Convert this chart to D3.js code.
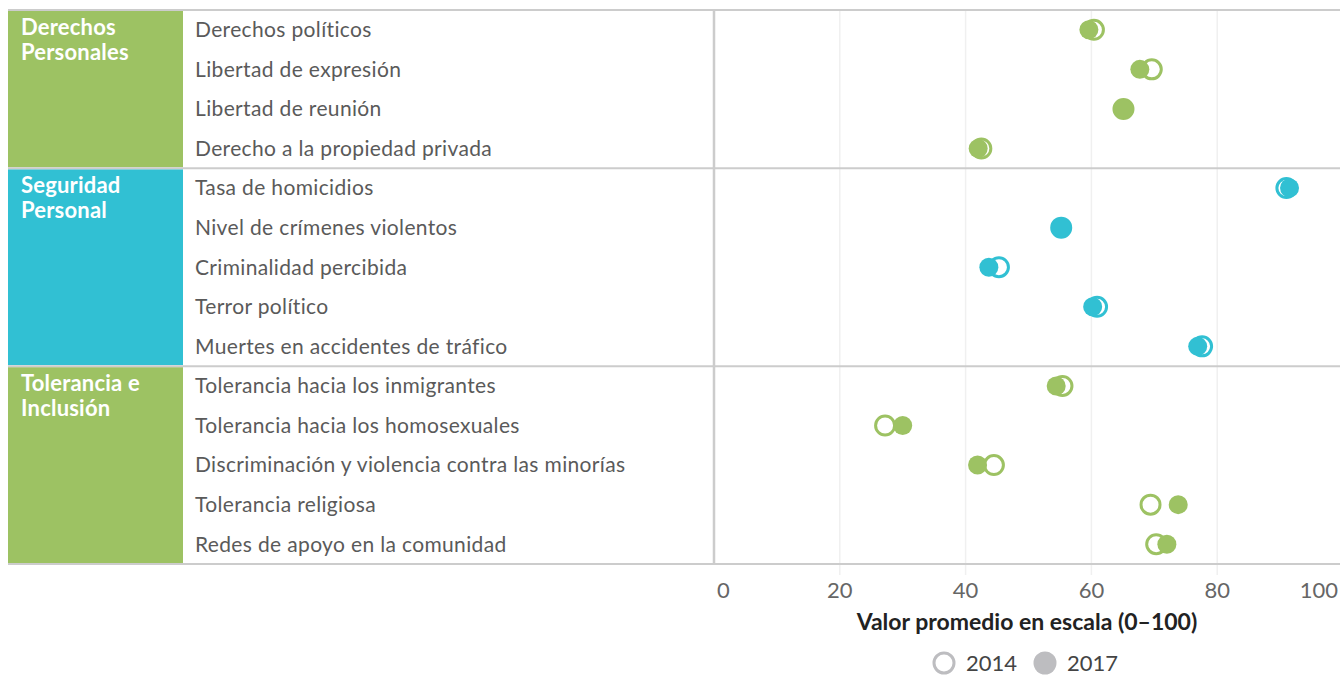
<!DOCTYPE html>
<html>
<head>
<meta charset="utf-8">
<script src="https://cdn.jsdelivr.net/npm/d3@7"></script>
<style>
  html, body { margin: 0; padding: 0; background: #fff; }
  svg { display: block; }
  text { font-family: Lato, "Open Sans", sans-serif; }
</style>
</head>
<body>
<svg id="chart" width="1340" height="677"></svg>
<script>
// ---- data ----
const groups = ["Derechos Personales", "Seguridad Personal", "Tolerancia e Inclusión"];
const groupLines = [["Derechos", "Personales"], ["Seguridad", "Personal"], ["Tolerancia e", "Inclusión"]];
const groupColors = ["#9dc263", "#31c0d3", "#9dc263"];
const items = [
  "Derechos políticos", "Libertad de expresión", "Libertad de reunión", "Derecho a la propiedad privada",
  "Tasa de homicidios", "Nivel de crímenes violentos", "Criminalidad percibida", "Terror político", "Muertes en accidentes de tráfico",
  "Tolerancia hacia los inmigrantes", "Tolerancia hacia los homosexuales", "Discriminación y violencia contra las minorías", "Tolerancia religiosa", "Redes de apoyo en la comunidad"
];
const itemGroup = [0,0,0,0, 1,1,1,1,1, 2,2,2,2,2];
const values2014 = [60.4, 69.6, 65.1, 42.5, 91.0, 55.2, 45.3, 60.9, 77.6, 55.4, 27.2, 44.5, 69.4, 70.3];
const values2017 = [59.6, 67.7, 65.1, 42.0, 91.5, 55.2, 43.7, 60.2, 76.9, 54.4, 30.0, 41.9, 73.8, 72.0];
const tickValues = [0, 20, 40, 60, 80, 100];
const gridValues = [20, 40, 60, 80, 100];
const axisTitle = "Valor promedio en escala (0–100)";
const legendYears = ["2014", "2017"];

// ---- layout ----
const W = 1340;
const plotTop = 10, plotBottom = 564;
const leftX = 8, catW = 175, labelX = 195, plotX0 = 714;
const svg = d3.select("#chart");

const x = d3.scaleLinear().domain([0, 100]).range([plotX0, 1343]);
const y = d3.scaleBand().domain(items).range([plotTop, plotBottom]);
const bw = y.bandwidth();

// gridlines
svg.append("g").selectAll("line").data(gridValues).join("line")
  .attr("x1", d => x(d)).attr("x2", d => x(d))
  .attr("y1", plotTop).attr("y2", plotBottom + 11)
  .attr("stroke", "#f0f0f0").attr("stroke-width", 1.5);

// group blocks
const groupExtents = groups.map((g, gi) => {
  const its = items.filter((d, i) => itemGroup[i] === gi);
  return { gi, y0: y(its[0]), y1: y(its[its.length - 1]) + bw };
});
svg.append("g").selectAll("rect").data(groupExtents).join("rect")
  .attr("x", leftX).attr("width", catW)
  .attr("y", d => d.y0 + 1).attr("height", d => d.y1 - d.y0 - 2)
  .attr("fill", d => groupColors[d.gi]);

const catText = svg.append("g").selectAll("text").data(groupExtents).join("text")
  .attr("x", 21).attr("y", d => d.y0 + 25)
  .attr("fill", "#fff").attr("font-weight", "bold").attr("font-size", 22)
  .attr("letter-spacing", 0.2);
catText.selectAll("tspan").data(d => groupLines[d.gi]).join("tspan")
  .attr("x", 21).attr("dy", (d, i) => i === 0 ? 0 : 25).text(d => d);

// horizontal rules
const rules = [plotTop].concat(groupExtents.map(d => d.y1));
svg.append("g").selectAll("line").data(rules).join("line")
  .attr("x1", leftX).attr("x2", W)
  .attr("y1", d => d).attr("y2", d => d)
  .attr("stroke", "#cccccc").attr("stroke-width", 2);

// vertical axis line
svg.append("line")
  .attr("x1", x(0)).attr("x2", x(0)).attr("y1", plotTop).attr("y2", plotBottom + 1)
  .attr("stroke", "#cccccc").attr("stroke-width", 2.5);

// item labels
svg.append("g").selectAll("text").data(items).join("text")
  .attr("x", labelX).attr("y", d => y(d) + bw / 2).attr("dy", "0.35em")
  .attr("fill", "#5a5a5a").attr("font-size", 21).attr("letter-spacing", 0.35)
  .text(d => d);

// dots
const dotG = svg.append("g");
dotG.selectAll("circle.y2014").data(items).join("circle")
  .attr("class", "y2014")
  .attr("cx", (d, i) => x(values2014[i])).attr("cy", d => y(d) + bw / 2)
  .attr("r", 9.5).attr("fill", "#fff")
  .attr("stroke", (d, i) => groupColors[itemGroup[i]]).attr("stroke-width", 3);
dotG.selectAll("circle.y2017").data(items).join("circle")
  .attr("class", "y2017")
  .attr("cx", (d, i) => x(values2017[i])).attr("cy", d => y(d) + bw / 2)
  .attr("r", 9.5).attr("fill", (d, i) => groupColors[itemGroup[i]]);

// tick labels
svg.append("g").selectAll("text").data(tickValues).join("text")
  .attr("x", d => d === 0 ? x(d) + 3 : d === 100 ? 1338 : x(d))
  .attr("y", 598)
  .attr("text-anchor", d => d === 0 ? "start" : d === 100 ? "end" : "middle")
  .attr("fill", "#666").attr("font-size", 22).text(d => d);

// axis title
svg.append("text")
  .attr("x", (x(0) + W) / 2).attr("y", 630)
  .attr("text-anchor", "middle").attr("font-weight", "bold")
  .attr("font-size", 23).attr("fill", "#222").text(axisTitle);

// legend
const leg = svg.append("g");
const legX = [944, 1045];
leg.selectAll("circle").data(legendYears).join("circle")
  .attr("cx", (d, i) => legX[i]).attr("cy", 663)
  .attr("r", (d, i) => i === 0 ? 10 : 11.5)
  .attr("fill", (d, i) => i === 0 ? "#fff" : "#bdbdc0")
  .attr("stroke", (d, i) => i === 0 ? "#bdbdc0" : "none")
  .attr("stroke-width", 3);
leg.selectAll("text").data(legendYears).join("text")
  .attr("x", (d, i) => legX[i] + 22).attr("y", 671)
  .attr("fill", "#444").attr("font-size", 22).text(d => d);
</script>
</body>
</html>
